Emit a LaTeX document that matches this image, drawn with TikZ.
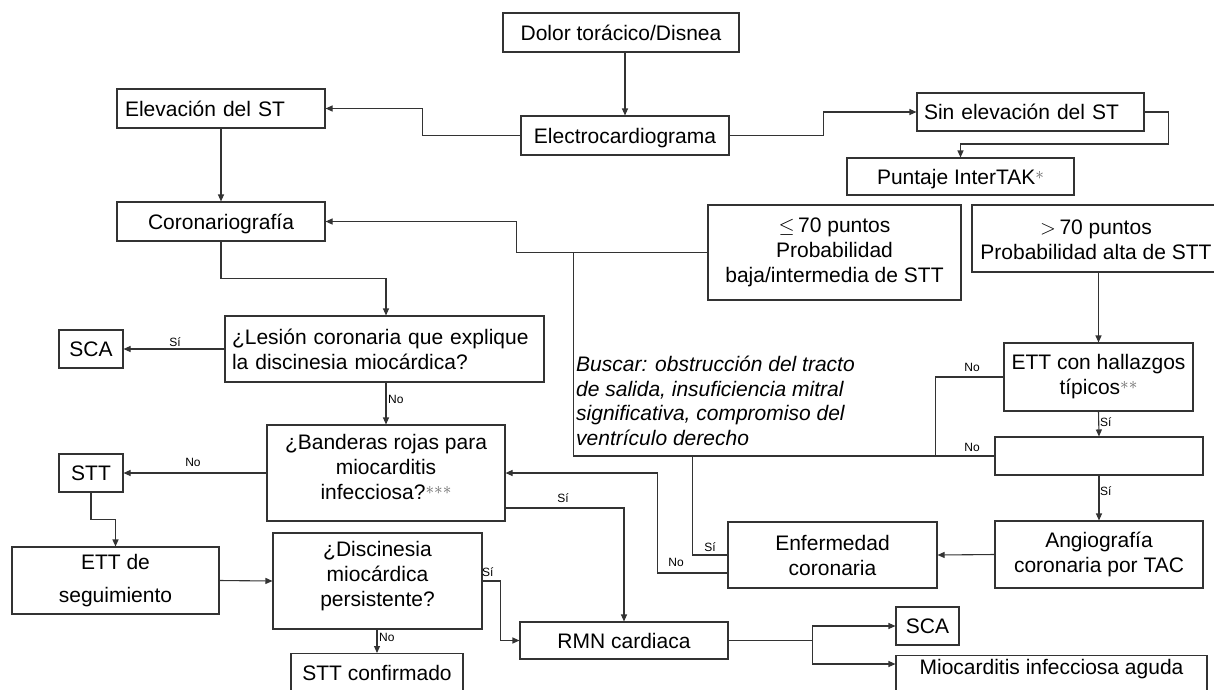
\documentclass[tikz,border=0pt]{standalone}
\usepackage{fontspec}
\setmainfont{Liberation Sans}
\usetikzlibrary{arrows.meta,calc}
\newcommand{\dgmain}{\fontsize{21}{25}\selectfont}
\newcommand{\dgwide}{\fontsize{21}{33}\selectfont}
\newcommand{\dgit}{\fontsize{21}{24.5}\selectfont\itshape}
\newcommand{\dglbl}{\fontsize{12}{14}\selectfont}
\newcommand{\dgast}[1]{\textcolor{black!60}{\raisebox{5pt}{\fontsize{17}{17}\selectfont$#1$}}}
\begin{document}
\begin{tikzpicture}[x=1pt,y=-1pt,
  line/.style={draw=black!80, line width=1.1pt},
  arr/.style={line, -{Triangle[length=7pt,width=6pt]}},
  box/.style={draw=black!80, line width=1.1pt, inner sep=0pt, font=\dgmain, align=center},
  one/.style={text height=15pt, text depth=0pt},
  txt/.style={inner sep=0pt, font=\dgmain, align=center},
  lbl/.style={font=\dglbl, inner sep=1pt}]
\useasboundingbox (0,0) rectangle (1214,689);
\clip (0,0) rectangle (1214,689);

% boxes
\node[box,one,minimum width=236pt,minimum height=39pt] (dolor) at (621,32.5) {Dolor torácico/Disnea};
\node[box,one,minimum width=208pt,minimum height=39pt] (ecg) at (625,135.5) {Electrocardiograma};
\node[box,one,minimum height=39pt,text width=192pt,inner xsep=8pt,align=left] (elev) at (221,108.5) {Elevación del ST};
\node[box,one,minimum height=38pt,text width=213pt,inner xsep=7pt,align=left] (sin) at (1030.5,112) {Sin elevación del ST};
\node[box,one,minimum width=227pt,minimum height=37pt] (punt) at (960.5,176.5) {Puntaje InterTAK\dgast{\ast}};
\node[box,minimum width=253pt,minimum height=95pt] (le70) at (834.5,252.5) {$\leq$\,70 puntos\\Probabilidad\\baja/intermedia de STT};
\node[box,minimum width=248pt,minimum height=67pt] (gt70) at (1096,238.5) {};
\node[txt] (gt70t) at (1096,240) {$>$\,70 puntos\\Probabilidad alta de STT};
\node[box,one,minimum width=208pt,minimum height=39pt] (coro) at (221,221.5) {Coronariografía};
\node[box,minimum height=66pt,text width=305pt,inner xsep=7pt,align=left] (les) at (384.5,349) {¿Lesión coronaria que explique\\la discinesia miocárdica?};
\node[box,one,minimum width=64pt,minimum height=38pt] (sca1) at (91,349) {SCA};
\node[box,minimum width=238pt,minimum height=96pt] (band) at (386,473) {};
\node[txt] (bandt) at (386,467) {¿Banderas rojas para\\miocarditis\\infecciosa?\dgast{{\ast}{\ast}{\ast}}};
\node[box,one,minimum width=64pt,minimum height=38pt] (stt) at (91,473) {STT};
\node[box,minimum width=207pt,minimum height=67pt,font=\dgwide] (ettseg) at (115.5,580.5) {ETT de\\seguimiento};
\node[box,minimum width=209pt,minimum height=96pt] (disc) at (377.5,581) {};
\node[txt] (disct) at (377.5,576) {¿Discinesia\\miocárdica\\persistente?};
\node[box,anchor=north,minimum width=172pt,text height=26.5pt,text depth=15pt] (sttc) at (377,653) {STT confirmado};
\node[box,one,minimum width=208pt,minimum height=37pt] (rmn) at (624,640.5) {RMN cardiaca};
\node[box,one,minimum width=63pt,minimum height=38pt] (sca2) at (927.5,626) {SCA};
\node[box,anchor=north,minimum width=311pt,text height=18.5pt,text depth=20pt] (mio) at (1051.5,655) {Miocarditis infecciosa aguda};
\node[box,minimum width=209pt,minimum height=66pt] (enf) at (832.5,555) {Enfermedad\\coronaria};
\node[box,minimum width=208pt,minimum height=67pt] (ang) at (1099,554.5) {Angiografía\\coronaria por TAC};
\node[box,minimum width=208pt,minimum height=38pt] (empty) at (1099,456) {};
\node[box,minimum width=189pt,minimum height=68pt] (ett) at (1098.5,377) {ETT con hallazgos\\típicos\dgast{{\ast}{\ast}}};
\node[txt,align=left,anchor=north west,font=\dgit] (busc) at (576,356) {Buscar: obstrucción del tracto\\de salida, insuficiencia mitral\\significativa, compromiso del\\ventrículo derecho};

% junctions
\coordinate (jb) at ($(le70.west)+(-134,0)$);
\coordinate (jc) at (jb |- empty.west);
\coordinate (jn) at ($(empty.west)+(-59,0)$);
\coordinate (js) at ($(empty.west)+(-302,0)$);
\coordinate (jr) at ($(rmn.east)+(84,0)$);

% connectors
\draw[arr] (dolor.south -| ecg.north) -- (ecg.north);
\draw[arr] (ecg.west) -- ++(-98,0) |- (elev.east);
\draw[arr] (ecg.east) -- ++(94,0) |- (sin.west);
\draw[arr] (sin.east) -- ++(24,0) -- ++(0,32) -| (punt.north);
\draw[arr] (elev.south) -- (coro.north);
\draw[arr] (le70.west) -- ++(-191,0) |- (coro.east);
\draw[line] (empty.west) -- (jc) -- (jb);
\draw[line] (ett.west) -| (jn);
\draw[line] (js) |- (enf.west);
\draw[arr] ($(enf.west)+(0,18)$) -- ++(-70,0) |- (band.east);
\draw[arr] ($(band.east)+(0,35)$) -| (rmn.north);
\draw[arr] (ang.west) -- (enf.east);
\draw[arr] (ett.north |- gt70.south) -- (ett.north);
\draw[arr] (ett.south) -- (empty.north);
\draw[arr] (empty.south) -- (ang.north);
\draw[arr] (coro.south) -- ++(0,37) -| (band.north |- les.north);
\draw[arr] (les.west) -- (sca1.east);
\draw[arr] (band.north |- les.south) -- (band.north);
\draw[arr] (band.west) -- (stt.east);
\draw[arr] (stt.south) -- ++(0,27) -| (ettseg.north);
\draw[arr] (ettseg.east) -- (disc.west);
\draw[arr] (disc.south -| sttc.north) -- (sttc.north);
\draw[arr] (disc.east) -- ++(18,0) |- (rmn.west);
\draw[line] (rmn.east) -- (jr);
\draw[arr] (jr) |- (sca2.west);
\draw[arr] (jr) |- ($(mio.north west)+(0,9)$);

% labels
\node[lbl] (l1) at (175,342) {Sí};
\node[lbl,anchor=west] (l2) at (387,399) {No};
\node[lbl] (l3) at (193,462) {No};
\node[lbl] (l4) at (563,498) {Sí};
\node[lbl,anchor=west] (l5) at (481,572) {Sí};
\node[lbl,anchor=west] (l6) at (378,637) {No};
\node[lbl] (l7) at (710,547) {Sí};
\node[lbl] (l8) at (676,562) {No};
\node[lbl] (l9) at (972,367) {No};
\node[lbl] (l10) at (972,447) {No};
\node[lbl,anchor=west] (l11) at (1099,422) {Sí};
\node[lbl,anchor=west] (l12) at (1099,491) {Sí};
\end{tikzpicture}
\end{document}
